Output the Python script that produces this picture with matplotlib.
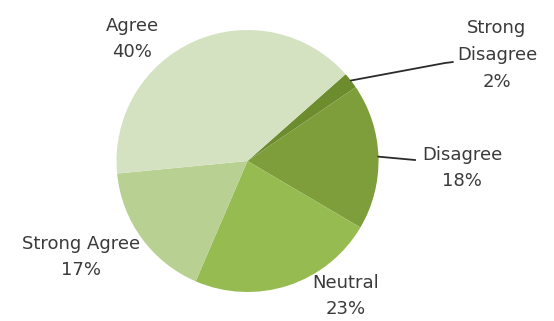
import numpy as np
import matplotlib
matplotlib.use("Agg")
import matplotlib.pyplot as plt

# Survey responses, clockwise from the upper-right
categories = ["Strong\nDisagree", "Disagree", "Neutral", "Strong Agree", "Agree"]
percentages = [2, 18, 23, 17, 40]
colors = ["#6d8c2e", "#7d9e3a", "#96bb50", "#b9d093", "#d5e2c2"]

W, H = 554, 321
fig = plt.figure(figsize=(W / 100, H / 100), dpi=100)
ax = fig.add_axes([0, 0, 1, 1])

cx, cy, r = 247.5, H - 161, 131
start = 41.5
wedges, _ = ax.pie(percentages, colors=colors, startangle=start,
                   counterclock=False, center=(cx, cy), radius=r,
                   frame=True, wedgeprops=dict(linewidth=0))
ax.set_xlim(0, W)
ax.set_ylim(0, H)
ax.set_aspect("equal")
ax.axis("off")

# label block centres (pixel space, y measured from top)
label_pos = [(497, 55), (462, 168), (346, 296), (81, 257), (132, 39)]
text_color = "#3a3a3a"
for name, pct, (lx, ly) in zip(categories, percentages, label_pos):
    ax.text(lx, H - ly, f"{name}\n{pct}%", ha="center", va="center",
            fontsize=13, color=text_color, family="DejaVu Sans",
            linespacing=1.62)

# leader lines from the small right-hand wedges to their labels
def edge_point(w):
    mid = np.deg2rad((w.theta1 + w.theta2) / 2)
    return cx + r * np.cos(mid), cy + r * np.sin(mid)

x0, y0 = edge_point(wedges[0])
ax.plot([x0, 445, 453], [y0, H - 63, H - 62], color="#2b2b2b", lw=1.3,
        solid_capstyle="round")
x1, y1 = edge_point(wedges[1])
ax.plot([x1, 415], [y1, H - 160], color="#2b2b2b", lw=1.3)

fig.savefig("out.png", dpi=100)
